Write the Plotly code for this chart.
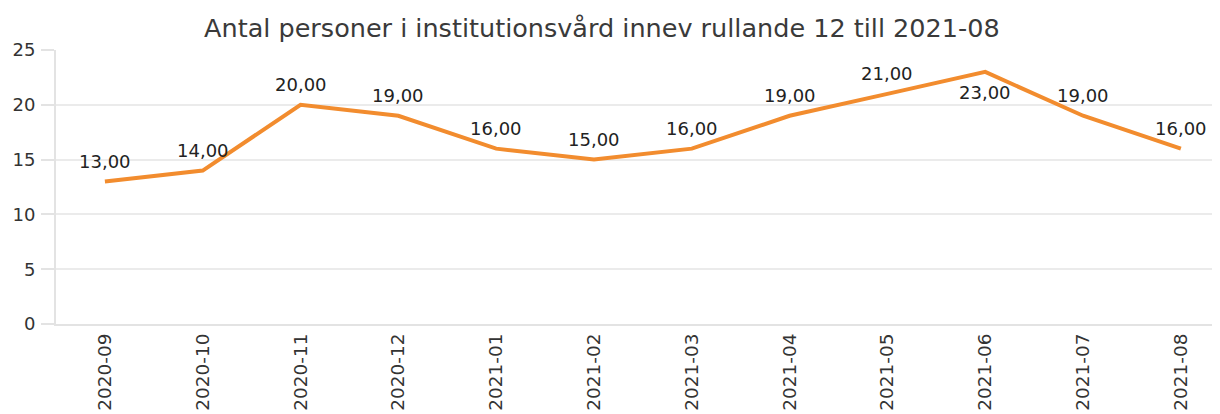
import plotly.graph_objects as go

months = ["2020-09", "2020-10", "2020-11", "2020-12", "2021-01", "2021-02",
          "2021-03", "2021-04", "2021-05", "2021-06", "2021-07", "2021-08"]
values = [13, 14, 20, 19, 16, 15, 16, 19, 21, 23, 19, 16]
label_pos = ["above", "above", "above", "above", "above", "above",
             "above", "above", "above", "below", "above", "above"]
y_ticks = [0, 5, 10, 15, 20, 25]
title_text = "Antal personer i institutionsvård innev rullande 12 till 2021-08"

LINE_COLOR = "#F28C2E"
TEXT_COLOR = "#333333"

fig = go.Figure()
fig.add_trace(go.Scatter(
    x=months, y=values, mode="lines",
    line=dict(color=LINE_COLOR, width=4),
    hoverinfo="x+y", showlegend=False,
))

annotations = []
for m, v, p in zip(months, values, label_pos):
    annotations.append(dict(
        x=m, y=v, xref="x", yref="y",
        text=f"{v:.2f}".replace(".", ","),
        showarrow=False,
        yshift=20 if p == "above" else -21,
        font=dict(family="DejaVu Sans", size=18, color="#222222"),
    ))

# page has an 8px body margin: figure sized so the plot lands where the reference has it
fig.update_layout(
    width=1212, height=406,
    margin=dict(l=48, r=0, t=42, b=90),
    paper_bgcolor="white", plot_bgcolor="white",
    title=dict(text=title_text, x=0.49, xanchor="center", y=0.95, yanchor="middle",
               font=dict(family="DejaVu Sans", size=25.5, color="#3a3a3a")),
    annotations=annotations,
    font=dict(family="DejaVu Sans", color=TEXT_COLOR),
)
fig.update_xaxes(
    type="category", range=[-0.5, 11.4], automargin=False,
    tickangle=-90, tickfont=dict(size=18.5, color=TEXT_COLOR),
    showgrid=False, showline=True, linecolor="#e3e3e3", linewidth=2,
    ticks="", zeroline=False,
)
fig.update_yaxes(
    range=[0, 25], tickvals=y_ticks, automargin=False,
    tickfont=dict(size=18, color=TEXT_COLOR),
    showgrid=True, gridcolor="#ebebeb", gridwidth=2,
    showline=True, linecolor="#e3e3e3", linewidth=2,
    ticks="outside", ticklen=13, tickcolor="#e3e3e3", tickwidth=2,
    ticklabelstandoff=2, zeroline=False,
)

fig.write_html("out.html")
